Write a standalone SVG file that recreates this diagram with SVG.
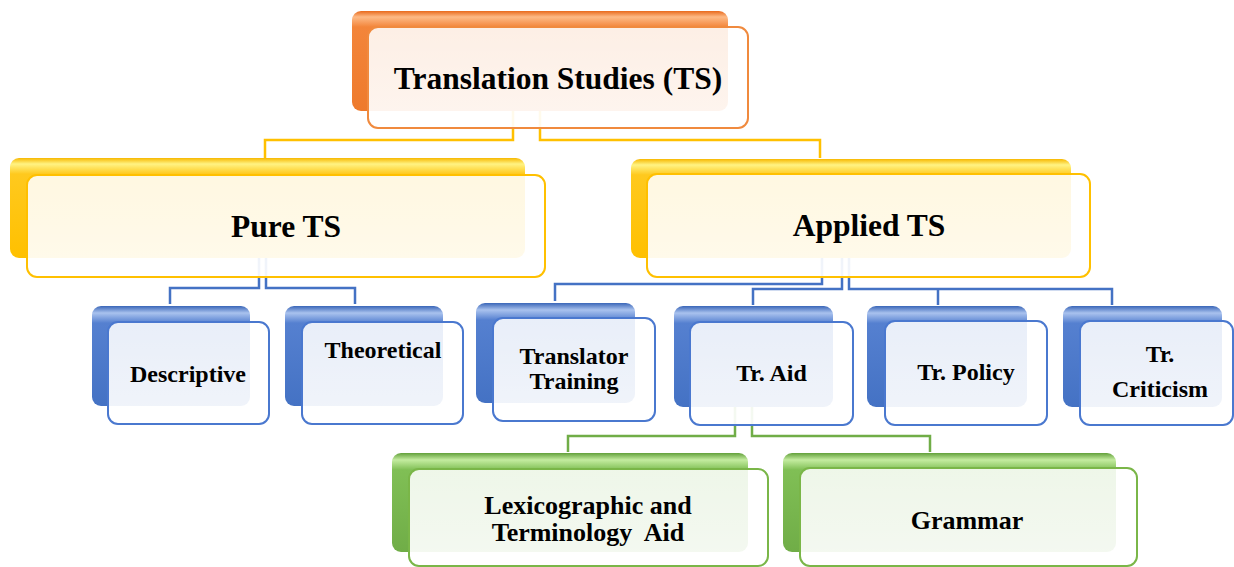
<svg xmlns="http://www.w3.org/2000/svg" width="1234" height="567" viewBox="0 0 1234 567">
<defs>
<linearGradient id="gO" x1="0" y1="0" x2="0" y2="1"><stop offset="0" stop-color="#e8691c"/><stop offset="0.06" stop-color="#fdba86"/><stop offset="0.16" stop-color="#f3853a"/><stop offset="1" stop-color="#ee7a2c"/></linearGradient>
<linearGradient id="gY" x1="0" y1="0" x2="0" y2="1"><stop offset="0" stop-color="#f7b800"/><stop offset="0.06" stop-color="#fff384"/><stop offset="0.16" stop-color="#ffc91e"/><stop offset="1" stop-color="#ffc000"/></linearGradient>
<linearGradient id="gB" x1="0" y1="0" x2="0" y2="1"><stop offset="0" stop-color="#3a66b8"/><stop offset="0.07" stop-color="#a9c2ee"/><stop offset="0.17" stop-color="#5580d0"/><stop offset="1" stop-color="#4472c4"/></linearGradient>
<linearGradient id="gG" x1="0" y1="0" x2="0" y2="1"><stop offset="0" stop-color="#62a03a"/><stop offset="0.07" stop-color="#c4eca0"/><stop offset="0.17" stop-color="#80bf55"/><stop offset="1" stop-color="#70ad47"/></linearGradient>
<linearGradient id="gF" x1="0" y1="0" x2="0" y2="1"><stop offset="0" stop-color="#ffffff" stop-opacity="0.87"/><stop offset="1" stop-color="#ffffff" stop-opacity="0.93"/></linearGradient>
</defs>
<style>
.t{font-family:'Liberation Serif','Tinos','Times New Roman',serif;font-weight:700;fill:#000;text-anchor:middle}
.l{font-size:31.5px}
.m{font-size:24px}
.s{font-size:26px}
.c{fill:none;stroke-width:2.5}
.cy{stroke:#ffc000}.cb{stroke:#4472c4}.cg{stroke:#70ad47}
.bo{fill:url(#gO)}.by{fill:url(#gY)}.bb{fill:url(#gB)}.bg{fill:url(#gG)}
.f{fill:url(#gF);stroke-width:2}
.fo{stroke:#f08a3e}.fy{stroke:#ffc000}.fb{stroke:#4a78cf}.fg{stroke:#7ab648}
</style>
<g id="connectors">
<path class="c cy" d="M513,110 V140 H265 V158 M540,110 V140 H820 V158"/>
<path class="c cb" d="M259,258 V288 H170 V304 M266,258 V288 H355 V304"/>
<path class="c cb" d="M822,258 V284 H555 V301 M842,258 V289 H753 V305 M849,258 V289 H1112 V305 M938,289 V305"/>
<path class="c cg" d="M735,407 V436 H568 V452 M752,407 V436 H930 V452"/>
</g>
<g id="n-ts">
<rect class="bo" x="352" y="11" width="376" height="100" rx="9"/>
<rect class="f fo" x="368" y="27" width="380" height="101" rx="10"/>
<text class="t l" x="558" y="89">Translation Studies (TS)</text>
</g>
<g id="n-pure">
<rect class="by" x="10" y="158" width="515" height="100" rx="9"/>
<rect class="f fy" x="27" y="175" width="518" height="102" rx="10"/>
<text class="t l" x="286" y="237">Pure TS</text>
</g>
<g id="n-applied">
<rect class="by" x="631" y="159" width="440" height="99" rx="9"/>
<rect class="f fy" x="647" y="174" width="443" height="103" rx="10"/>
<text class="t l" x="869" y="236">Applied TS</text>
</g>
<g id="n-descriptive">
<rect class="bb" x="92" y="306" width="158" height="100" rx="9"/>
<rect class="f fb" x="108" y="322" width="161" height="102" rx="10"/>
<text class="t m" x="188" y="382">Descriptive</text>
</g>
<g id="n-theoretical">
<rect class="bb" x="285" y="306" width="158" height="100" rx="9"/>
<rect class="f fb" x="302" y="322" width="161" height="102" rx="10"/>
<text class="t m" x="383" y="358">Theoretical</text>
</g>
<g id="n-training">
<rect class="bb" x="476" y="303" width="159" height="100" rx="9"/>
<rect class="f fb" x="493" y="318" width="162" height="103" rx="10"/>
<text class="t m" x="574" y="364">Translator</text>
<text class="t m" x="574" y="389">Training</text>
</g>
<g id="n-aid">
<rect class="bb" x="674" y="306" width="159" height="101" rx="9"/>
<rect class="f fb" x="690" y="322" width="163" height="103" rx="10"/>
<text class="t m" x="771.5" y="381">Tr. Aid</text>
</g>
<g id="n-policy">
<rect class="bb" x="867" y="306" width="160" height="101" rx="9"/>
<rect class="f fb" x="885" y="321" width="162" height="104" rx="10"/>
<text class="t m" x="966" y="380">Tr. Policy</text>
</g>
<g id="n-criticism">
<rect class="bb" x="1063" y="306" width="159" height="101" rx="9"/>
<rect class="f fb" x="1080" y="321" width="153" height="104" rx="10"/>
<text class="t m" x="1160" y="362">Tr.</text>
<text class="t m" x="1160" y="397">Criticism</text>
</g>
<g id="n-lexico">
<rect class="bg" x="392" y="453" width="356" height="99" rx="9"/>
<rect class="f fg" x="409" y="469" width="359" height="97" rx="10"/>
<text class="t s" x="588" y="514">Lexicographic and</text>
<text class="t s" x="588" y="541" xml:space="preserve">Terminology  Aid</text>
</g>
<g id="n-grammar">
<rect class="bg" x="783" y="453" width="333" height="99" rx="9"/>
<rect class="f fg" x="800" y="468" width="337" height="98" rx="10"/>
<text class="t s" x="967" y="529">Grammar</text>
</g>
</svg>
